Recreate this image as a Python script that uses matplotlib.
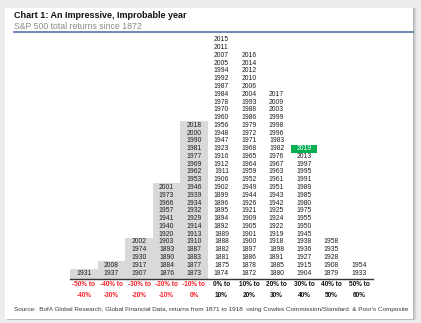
import matplotlib
matplotlib.use("Agg")
import matplotlib.pyplot as plt
from matplotlib import font_manager
from matplotlib.patches import Rectangle

# S&P 500 calendar-year total returns, years grouped by return bucket (newest at top)
buckets = ["-50% to\n-40%", "-40% to\n-30%", "-30% to\n-20%", "-20% to\n-10%", "-10% to\n0%",
           "0% to\n10%", "10% to\n20%", "20% to\n30%", "30% to\n40%", "40% to\n50%", "50% to\n60%"]
years_m50 = [1931]
years_m40 = [2008, 1937]
years_m30 = [2002, 1974, 1930, 1917, 1907]
years_m20 = [2001, 1973, 1966, 1957, 1941, 1940, 1920, 1903, 1893, 1890, 1884, 1876]
years_m10 = [2018, 2000, 1990, 1981, 1977, 1969, 1962, 1953, 1946, 1939, 1934, 1932, 1929,
             1914, 1913, 1910, 1887, 1883, 1877, 1873]
years_p0 = [2015, 2011, 2007, 2005, 1994, 1992, 1987, 1984, 1978, 1970, 1960, 1956, 1948, 1947,
            1923, 1916, 1912, 1911, 1906, 1902, 1899, 1896, 1895, 1894, 1892, 1889, 1888, 1882,
            1881, 1875, 1874]
years_p10 = [2016, 2014, 2012, 2010, 2006, 2004, 1993, 1988, 1986, 1979, 1972, 1971, 1968, 1965,
             1964, 1959, 1952, 1949, 1944, 1926, 1921, 1909, 1905, 1901, 1900, 1897, 1886, 1878,
             1872]
years_p20 = [2017, 2009, 2003, 1999, 1998, 1996, 1983, 1982, 1976, 1967, 1963, 1961, 1951, 1943,
             1942, 1925, 1924, 1922, 1919, 1918, 1898, 1891, 1885, 1880]
years_p30 = [2019, 2013, 1997, 1995, 1991, 1989, 1985, 1980, 1975, 1955, 1950, 1945, 1938, 1936,
             1927, 1915, 1904]
years_p40 = [1958, 1935, 1928, 1908, 1879]
years_p50 = [1954, 1933]
columns = [years_m50, years_m40, years_m30, years_m20, years_m10, years_p0, years_p10,
           years_p20, years_p30, years_p40, years_p50]
highlight_year = 2019

W, H = 421, 323
installed = {f.name for f in font_manager.fontManager.ttflist}
NARROW = "Liberation Sans Narrow" if "Liberation Sans Narrow" in installed else "Liberation Sans"
SANS = "Liberation Sans"


def fx(px):
    return px / W


def fy(py):
    return 1 - py / H


fig = plt.figure(figsize=(W / 100, H / 100), dpi=100, facecolor="#ececec")

# card with a soft shadow
for off, a in [(4, 0.04), (3, 0.05), (2, 0.06), (1, 0.08)]:
    fig.patches.append(Rectangle((fx(5 + off), fy(319 + 1)), fx(408), (311 + 1) / H,
                                 transform=fig.transFigure, facecolor="black", alpha=a,
                                 edgecolor="none", zorder=-2))
fig.patches.append(Rectangle((fx(5), fy(319)), fx(408), 311 / H, transform=fig.transFigure,
                             facecolor="white", edgecolor="none", zorder=-1))

fig.text(fx(14), fy(16), "Chart 1: An Impressive, Improbable year", fontsize=6.5,
         fontweight="bold", family=SANS, color="#111111", va="center", ha="left")
fig.text(fx(14), fy(26.5), "S&P 500 total returns since 1872", fontsize=6.3,
         family=SANS, color="#8a8a8a", va="center", ha="left")
fig.add_artist(plt.Line2D([fx(14), fx(413)], [fy(32), fy(32)], transform=fig.transFigure,
                          color="#6a8bb8", linewidth=1.4))
fig.text(fx(14), fy(309), "Source:  BofA Global Research, Global Financial Data, returns from "
         "1871 to 1918  using Cowles Commission/Standard  & Poor's Composite",
         fontsize=4.6, family=NARROW, color="#3a3a3a", va="center", ha="left")

ax = fig.add_axes([fx(70.25), fy(279), 302.5 / W, 243 / H])
ax.set_xlim(-0.5, 10.5)
ax.set_ylim(-0.77, 30.5)
ax.patch.set_visible(False)
for side in ["top", "left", "right"]:
    ax.spines[side].set_visible(False)
ax.spines["bottom"].set_color("#333333")
ax.spines["bottom"].set_linewidth(1.0)
ax.set_yticks([])

# grey backing behind the negative-return stacks
neg = [i for i in range(len(columns)) if i < 5]
ax.bar(neg, [len(columns[i]) - 0.45 + 0.77 for i in neg], bottom=-0.77, width=1.0,
       color="#d9d9d9", zorder=1)

for i, col in enumerate(columns):
    for j, yr in enumerate(col):
        row = len(col) - 1 - j
        color = "#1e1e1e"
        if yr == highlight_year:
            ax.bar(i, 1, bottom=row - 0.5, width=0.98, color="#00b050", zorder=2)
            color = "white"
        ax.text(i, row, str(yr), ha="center", va="center", fontsize=4.9, family=NARROW,
                color=color, zorder=3)

ax.set_xticks(range(len(buckets)), buckets)
ax.tick_params(axis="x", length=0, pad=1.5)
for k, lbl in enumerate(ax.get_xticklabels()):
    lbl.set_color("#f5222a" if k < 5 else "#111111")
    lbl.set_fontweight("bold")
    lbl.set_fontsize(4.7)
    lbl.set_family(NARROW)
    lbl.set_linespacing(1.85)

fig.savefig("out.png", dpi=100, facecolor=fig.get_facecolor())
